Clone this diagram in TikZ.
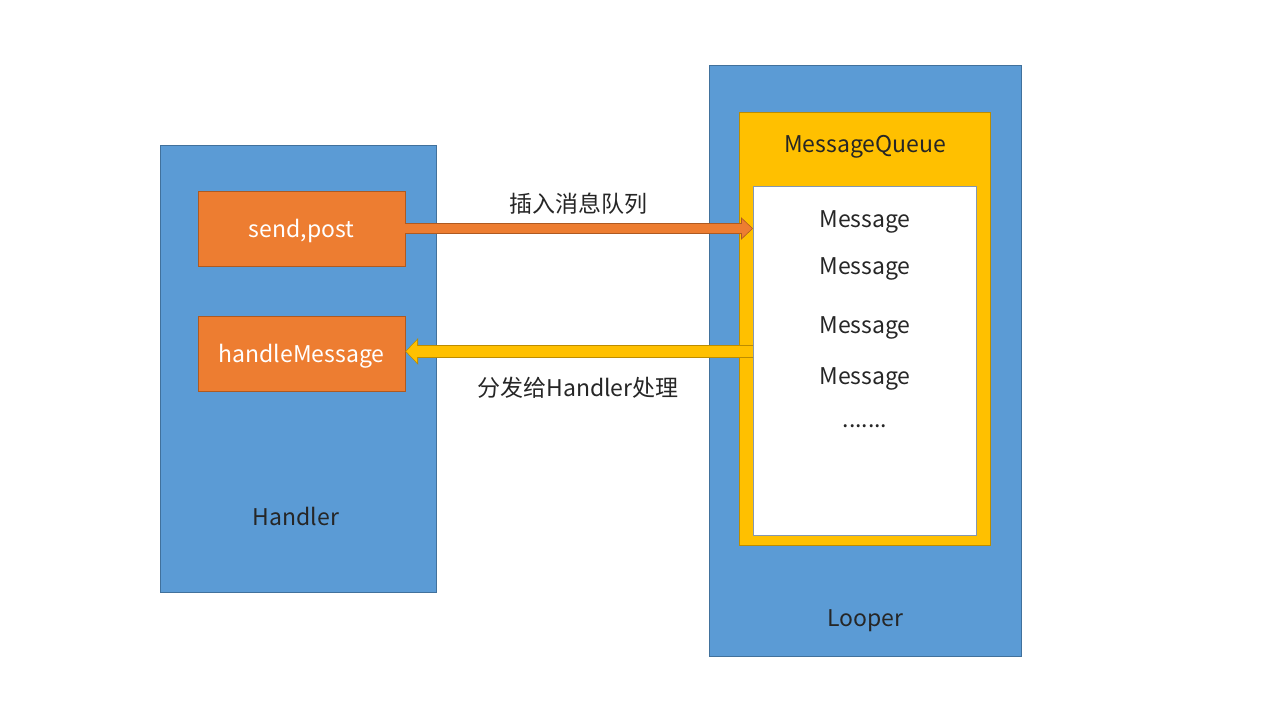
\documentclass[tikz,border=0pt]{standalone}
\usepackage{fontspec}
\setmainfont{Noto Sans CJK SC}
\usetikzlibrary{arrows.meta}
\usetikzlibrary{calc}
\usetikzlibrary{positioning}

\definecolor{panelblue}{HTML}{5B9BD5}
\definecolor{paneledge}{HTML}{41719C}
\definecolor{opfill}{HTML}{ED7D31}
\definecolor{opedge}{HTML}{AE5A21}
\definecolor{queuefill}{HTML}{FFC000}
\definecolor{queueedge}{HTML}{BC8C00}
\definecolor{listedge}{HTML}{8497B0}
\definecolor{inktext}{HTML}{262626}

\begin{document}
\begin{tikzpicture}[x=1pt, y=-1pt, font=\fontsize{23}{27}\selectfont, text=inktext,
    panel/.style={draw=paneledge, fill=panelblue, anchor=north west, inner sep=0pt},
    op/.style={draw=opedge, fill=opfill, text=white, minimum width=207pt, minimum height=75pt,
        inner sep=0pt, text height=19pt, text depth=2pt},
    lbl/.style={inner sep=0pt, yshift=-2pt}]
        \useasboundingbox (0,0) rectangle (1280,720);

        % Handler side
        \node[panel, minimum width=276pt, minimum height=447pt] (handler) at (160,145) {};
        \node[op] (send) at (301.5,228.5) {send,post};
        \node[op, below=50pt of send] (handle) {handleMessage};
        \node[lbl] (handlerlabel) at (296,514) {Handler};

        % Looper side
        \node[panel, minimum width=312pt, minimum height=591pt] (looper) at (709,65) {};
        \node[panel, draw=queueedge, fill=queuefill, minimum width=251pt, minimum height=433pt] (queue) at (739,112) {};
        \node[lbl] (queuelabel) at (865,145) {MessageQueue};
        \node[panel, draw=listedge, fill=white, minimum width=223pt, minimum height=349pt] (list) at (753,186) {};
        \node[lbl] (looperlabel) at (865,619) {Looper};

        \node[lbl] (m1) at (865,220) {Message};
        \node[lbl] (m2) at (865,267) {Message};
        \node[lbl] (m3) at (865,326) {Message};
        \node[lbl] (m4) at (865,377) {Message};
        \node[lbl] (more) at (865,424) {.......};

        % block arrows
        \draw[opedge, line width=11pt, -{Triangle[width=22pt, length=12pt]}] (send.east) -- (send.east -| list.west);
        \draw[opfill, line width=9pt, -{Triangle[width=18pt, length=10pt]}] (send.east) -- ($(send.east -| list.west)+(-1,0)$);
        \coordinate (back) at ($(list.west |- handle.east)+(0,-2.5)$);
        \coordinate (backend) at (handle.east |- back);
        \draw[queueedge, line width=13pt, -{Triangle[width=26pt, length=13pt]}] (back) -- (backend);
        \draw[queuefill, line width=11pt, -{Triangle[width=22pt, length=11pt]}] (back) -- ($(backend)+(1,0)$);

        \node[lbl] (inslabel) at (578,202) {插入消息队列};
        \node[lbl] (dispatchlabel) at (578,386) {分发给Handler处理};
\end{tikzpicture}
\end{document}
